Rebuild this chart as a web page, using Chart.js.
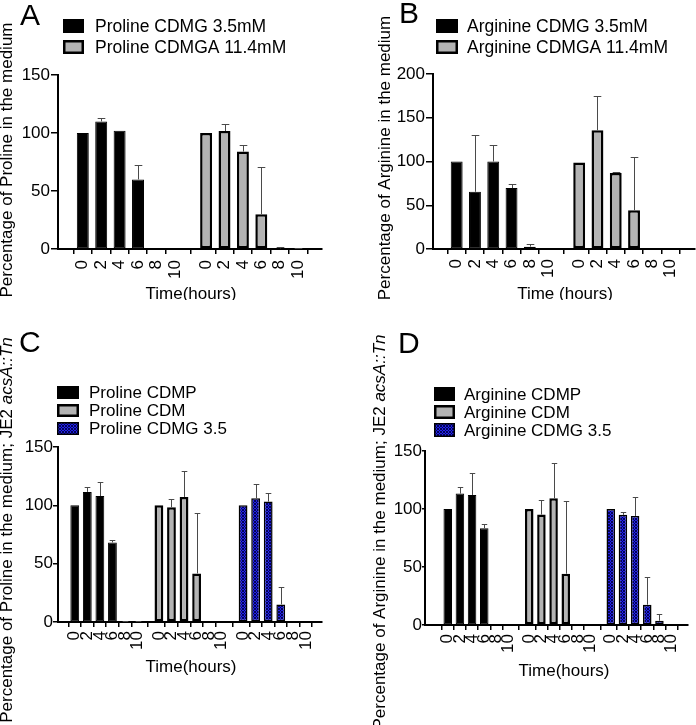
<!DOCTYPE html>
<html><head><meta charset="utf-8">
<script src="https://cdn.jsdelivr.net/npm/chart.js@4"></script>
<style>
html,body{margin:0;padding:0;background:#fff;}
#wrap{position:relative;width:696px;height:725px;overflow:hidden;background:#fff;}
canvas{position:absolute;}
</style></head><body>
<div id="wrap">
<canvas id="cA" width="348" height="300" style="left:0;top:0"></canvas>
<canvas id="cB" width="348" height="300" style="left:348px;top:0"></canvas>
<canvas id="cC" width="348" height="425" style="left:0;top:300px"></canvas>
<canvas id="cD" width="348" height="425" style="left:348px;top:300px"></canvas>
</div>
<script>
// ---------- DATA ----------
const timeLabels = ['0','2','4','6','8','10'];

const A_names = ['Proline CDMG 3.5mM', 'Proline CDMGA 11.4mM'];
const A_cdmg     = [100, 110, 102, 60, 0, 0];
const A_cdmg_sd  = [0, 2.6, 0, 12, 0, 0];
const A_cdmga    = [100, 101.7, 84, 30, 0.5, 0.3];
const A_cdmga_sd = [0, 6.3, 5.6, 41, 1, 0.7];

const B_names = ['Arginine CDMG 3.5mM', 'Arginine CDMGA 11.4mM'];
const B_cdmg     = [100, 65.4, 100, 69.6, 2.7, 0];
const B_cdmg_sd  = [0, 65.4, 19, 5, 3, 0];
const B_cdmga    = [99, 135.7, 86.8, 44.4, 0, 0];
const B_cdmga_sd = [0, 38.7, 1.2, 60.6, 0, 0];

const C_names = ['Proline CDMP', 'Proline CDM', 'Proline CDMG 3.5'];
const C_cdmp     = [100, 111.5, 108, 68.2, 0.4, 0.4];
const C_cdmp_sd  = [0, 4.3, 11.8, 2.5, 0.5, 0.5];
const C_cdm      = [100, 98.4, 107.2, 41.6, 0, 0];
const C_cdm_sd   = [0, 7.1, 22, 51.9, 0, 0];
const C_cdmg     = [100, 106, 103.2, 15.1, 0, 0];
const C_cdmg_sd  = [0, 12, 7.8, 14.6, 0, 0];

const D_names = ['Arginine CDMP', 'Arginine CDM', 'Arginine CDMG 3.5'];
const D_cdmp     = [100, 113.3, 112.1, 83.5, 0, 0];
const D_cdmp_sd  = [0, 5.7, 19.2, 4, 0, 0];
const D_cdm      = [100, 95.2, 109.3, 44.2, 0, 0];
const D_cdm_sd   = [0, 12.8, 30.4, 62.8, 0, 0];
const D_cdmg     = [100, 95, 94, 17.5, 3.7, 0];
const D_cdmg_sd  = [0, 2.8, 16.4, 23.5, 6, 0];

const yTicksA = [0, 50, 100, 150];
const yTicksB = [0, 50, 100, 150, 200];

// ---------- STYLE ----------
const FONT = '"Liberation Sans", Arial, Helvetica, sans-serif';
const GROUP_STRIDE = 6.7;

function bluePattern(){
  const c = document.createElement('canvas'); c.width = 3; c.height = 3;
  const x = c.getContext('2d');
  x.fillStyle = '#03035c'; x.fillRect(0,0,3,3);
  x.fillStyle = '#2424e6';
  x.fillRect(1,0,1,1); x.fillRect(0,1,1,1); x.fillRect(2,1,1,1); x.fillRect(1,2,1,1);
  return x.createPattern(c, 'repeat');
}
const FILLS = {black:'#000000', grey:'#b3b3b3', blue:bluePattern()};
const BORDERS = {black:1, grey:2.5, blue:1.5};

// ---------- PLUGINS ----------
const errbars = {
  id:'errbars',
  afterDatasetsDraw(chart){
    const ctx = chart.ctx, ys = chart.scales.y;
    ctx.save();
    ctx.strokeStyle = '#4a4a4a'; ctx.lineWidth = 1;
    chart.data.datasets.forEach((ds, di) => {
      const meta = chart.getDatasetMeta(di);
      meta.data.forEach((bar, i) => {
        const sd = ds.sd[i]; if (!sd) return;
        const v = ds.data[i].y;
        const top = Math.round(ys.getPixelForValue(v + sd)) + 0.5;
        const base = ys.getPixelForValue(v);
        const hw = bar.width * 0.32;
        const x = Math.round(bar.x) + 0.5;
        ctx.beginPath();
        ctx.moveTo(x, base); ctx.lineTo(x, top);
        ctx.moveTo(x - hw, top); ctx.lineTo(x + hw, top);
        ctx.stroke();
      });
    });
    ctx.restore();
  }
};

const decor = {
  id:'decor',
  afterDraw(chart, args, o){
    const ctx = chart.ctx;
    ctx.save();
    ctx.fillStyle = '#000';
    // panel letter
    ctx.font = `${o.letterSize}px ${FONT}`;
    ctx.textAlign = 'left'; ctx.textBaseline = 'alphabetic';
    ctx.fillText(o.letter, o.letterX, o.letterY);
    // legend
    ctx.font = `${o.legFont}px ${FONT}`;
    ctx.textBaseline = 'middle';
    chart.data.datasets.forEach((ds, i) => {
      const top = o.legTop + i * o.legPitch;
      ctx.fillStyle = ds.backgroundColor;
      ctx.fillRect(o.legX, top, o.legW, o.legH);
      if (ds.legendBorder) {
        ctx.strokeStyle = '#000'; ctx.lineWidth = ds.legendBorder;
        const h = ds.legendBorder / 2;
        ctx.strokeRect(o.legX + h, top + h, o.legW - 2*h, o.legH - 2*h);
      }
      ctx.fillStyle = '#000';
      ctx.fillText(ds.label, o.legTextX, top + o.legH/2 + 1);
    });
    // y title (rotated, mixed styles)
    ctx.save();
    ctx.translate(o.yTitleX, o.yTitleCY);
    ctx.rotate(-Math.PI/2);
    ctx.textBaseline = 'middle'; ctx.textAlign = 'left';
    let total = 0;
    o.yTitle.forEach(s => { ctx.font = `${s.italic?'italic ':''}${o.titleFont}px ${FONT}`; total += ctx.measureText(s.t).width; });
    let px = -total/2;
    o.yTitle.forEach(s => {
      ctx.font = `${s.italic?'italic ':''}${o.titleFont}px ${FONT}`;
      ctx.fillText(s.t, px, 0);
      px += ctx.measureText(s.t).width;
    });
    ctx.restore();
    // x title
    ctx.font = `${o.titleFont}px ${FONT}`;
    ctx.textAlign = 'center'; ctx.textBaseline = 'alphabetic';
    ctx.fillText(o.xTitle, o.xTitleCX, o.xTitleY);
    ctx.restore();
  }
};

// ---------- BUILD ----------
function makePanel(id, cfg){
  const canvas = document.getElementById(id);
  const W = canvas.width, H = canvas.height;
  const positions = [];
  cfg.series.forEach((s, g) => timeLabels.forEach((t, i) => positions.push(g * GROUP_STRIDE + i)));
  const lastPos = positions[positions.length - 1];
  const datasets = cfg.series.map((s, g) => ({
    label: s.name,
    data: s.values.map((v, i) => ({x: g * GROUP_STRIDE + i, y: v})),
    sd: s.sd,
    backgroundColor: FILLS[s.style],
    borderColor: '#000',
    borderWidth: BORDERS[s.style],
    legendBorder: s.style === 'black' ? 0 : BORDERS[s.style],
    borderSkipped: false,
    grouped: false,
    barPercentage: cfg.barPct,
    categoryPercentage: 1
  }));
  const tickFont = {family: FONT, size: cfg.tickFont};
  new Chart(canvas, {
    type: 'bar',
    data: {datasets},
    options: {
      responsive: false, animation: false, devicePixelRatio: 1,
      layout: {padding: {left: 0, top: cfg.area.top, right: W - cfg.area.right, bottom: 0}},
      scales: {
        x: {
          type: 'linear', bounds: 'data',
          min: -cfg.padL, max: lastPos + cfg.padR,
          afterBuildTicks: sc => { sc.ticks = positions.map(v => ({value: v})); },
          afterFit: sc => { sc.height = H - cfg.area.bottom; },
          grid: {display: true, drawOnChartArea: false, drawTicks: true, tickLength: 5, color: '#000', lineWidth: 1.5},
          border: {display: true, color: '#000', width: 2},
          ticks: {autoSkip: false, minRotation: 90, maxRotation: 90, padding: cfg.xPad, color: '#000', font: tickFont,
                  callback: (v, i) => timeLabels[i % timeLabels.length]}
        },
        y: {
          min: 0, max: cfg.yTicks[cfg.yTicks.length - 1],
          afterBuildTicks: sc => { sc.ticks = cfg.yTicks.map(v => ({value: v})); },
          afterFit: sc => { sc.width = cfg.area.left; },
          grid: {display: true, drawOnChartArea: false, drawTicks: true, tickLength: cfg.yTickLen, color: '#000', lineWidth: 1.5},
          border: {display: true, color: '#000', width: 2},
          ticks: {padding: cfg.yPad, color: '#000', font: tickFont}
        }
      },
      plugins: {legend: {display: false}, tooltip: {enabled: false}, decor: cfg.decor}
    },
    plugins: [errbars, decor]
  });
}

makePanel('cA', {
  series: [
    {name: A_names[0], values: A_cdmg, sd: A_cdmg_sd, style: 'black'},
    {name: A_names[1], values: A_cdmga, sd: A_cdmga_sd, style: 'grey'}
  ],
  area: {left: 58, right: 322, top: 75, bottom: 249},
  padL: 0.75, padR: 0.7, barPct: 0.65, yTicks: yTicksA, tickFont: 17, xPad: 6, yTickLen: 7, yPad: 1,
  decor: {letter: 'A', letterX: 20, letterY: 25, letterSize: 30,
          legX: 63, legW: 21, legH: 14, legTop: 19, legPitch: 21, legTextX: 95, legFont: 17.5,
          yTitle: [{t: 'Percentage of Proline in the medium', italic: false}], yTitleX: 7, yTitleCY: 160,
          xTitle: 'Time(hours)', xTitleCX: 191, xTitleY: 299, titleFont: 17}
});

makePanel('cB', {
  series: [
    {name: B_names[0], values: B_cdmg, sd: B_cdmg_sd, style: 'black'},
    {name: B_names[1], values: B_cdmga, sd: B_cdmga_sd, style: 'grey'}
  ],
  area: {left: 85, right: 348, top: 74, bottom: 249},
  padL: 0.7, padR: 0.7, barPct: 0.65, yTicks: yTicksB, tickFont: 17, xPad: 5, yTickLen: 7, yPad: 1,
  decor: {letter: 'B', letterX: 51, letterY: 23, letterSize: 30,
          legX: 88, legW: 22, legH: 14, legTop: 19, legPitch: 21, legTextX: 119, legFont: 17.5,
          yTitle: [{t: 'Percentage of Arginine in the medium', italic: false}], yTitleX: 37, yTitleCY: 158,
          xTitle: 'Time (hours)', xTitleCX: 217, xTitleY: 299, titleFont: 17}
});

makePanel('cC', {
  series: [
    {name: C_names[0], values: C_cdmp, sd: C_cdmp_sd, style: 'black'},
    {name: C_names[1], values: C_cdm, sd: C_cdm_sd, style: 'grey'},
    {name: C_names[2], values: C_cdmg, sd: C_cdmg_sd, style: 'blue'}
  ],
  area: {left: 58, right: 322, top: 147, bottom: 322},
  padL: 0.75, padR: 0.7, barPct: 0.7, yTicks: yTicksA, tickFont: 17, xPad: 4, yTickLen: 5, yPad: 0,
  decor: {letter: 'C', letterX: 19, letterY: 52, letterSize: 30,
          legX: 57, legW: 22, legH: 13, legTop: 86, legPitch: 18, legTextX: 89, legFont: 17,
          yTitle: [{t: 'Percentage of Proline in the medium; JE2 ', italic: false}, {t: 'acsA::Tn', italic: true}],
          yTitleX: 7, yTitleCY: 230,
          xTitle: 'Time(hours)', xTitleCX: 191, xTitleY: 372, titleFont: 17}
});

makePanel('cD', {
  series: [
    {name: D_names[0], values: D_cdmp, sd: D_cdmp_sd, style: 'black'},
    {name: D_names[1], values: D_cdm, sd: D_cdm_sd, style: 'grey'},
    {name: D_names[2], values: D_cdmg, sd: D_cdmg_sd, style: 'blue'}
  ],
  area: {left: 77, right: 348, top: 151, bottom: 325},
  padL: 1.27, padR: 0.7, barPct: 0.7, yTicks: yTicksA, tickFont: 17, xPad: 4, yTickLen: 3, yPad: 0,
  decor: {letter: 'D', letterX: 50, letterY: 53, letterSize: 30,
          legX: 86, legW: 21, legH: 14, legTop: 87, legPitch: 18, legTextX: 116, legFont: 17,
          yTitle: [{t: 'Percentage of Arginine in the medium; JE2 ', italic: false}, {t: 'acsA::Tn', italic: true}],
          yTitleX: 32, yTitleCY: 232,
          xTitle: 'Time(hours)', xTitleCX: 216, xTitleY: 376, titleFont: 17}
});
</script>
</body></html>
